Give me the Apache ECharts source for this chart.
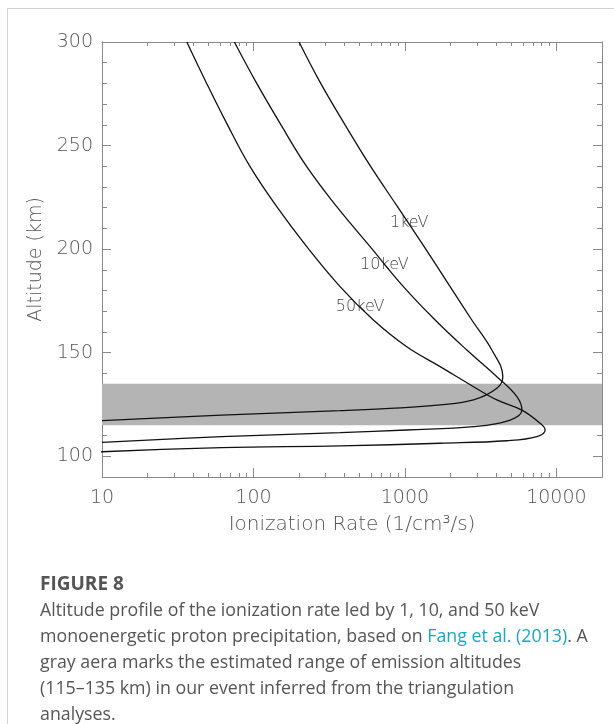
<!DOCTYPE html>
<html>
<head>
<meta charset="utf-8">
<script src="https://cdn.jsdelivr.net/npm/echarts@6/dist/echarts.min.js"></script>
<style>
body { margin: 0; background: #fff; }
#frame { position: absolute; left: 7px; top: 8px; width: 607px; height: 716px;
         border-top: 1px solid #d4d4d4; border-left: 1px solid #d4d4d4; }
#container1 { position: absolute; left: 0; top: 0; width: 614px; height: 724px; }
#caption { position: absolute; left: 40px; top: 570px; width: 570px;
           font-family: "Open Sans", Lato, sans-serif; color: #555; font-size: 17.8px; line-height: 26px; }
#caption .fig { font-weight: bold; font-size: 19px; }
#caption .link { color: #1aa6c6; }
</style>
</head>
<body>
<div id="frame"></div>
<div id="container1"></div>
<div id="caption">
<div class="fig">FIGURE 8</div>
Altitude profile of the ionization rate led by 1, 10, and 50 keV<br>
monoenergetic proton precipitation, based on <span class="link">Fang et al. (2013)</span>. A<br>
gray aera marks the estimated range of emission altitudes<br>
(115–135 km) in our event inferred from the triangulation<br>
analyses.
</div>
<script>
// 1 keV
var rate1 = [200, 278, 397, 595, 893, 1339, 1988, 2764, 3748, 4430, 4045, 2836, 1708, 798, 373, 61.7, 10];
var alt1  = [300, 280.0, 260.7, 239.8, 220.5, 201.2, 181.9, 165.8, 151.3, 138.4, 132.8, 127.2, 124.8, 123.1, 122.0, 119.9, 117.2];
// 10 keV
var rate10 = [74.8, 105.1, 149.9, 224.8, 354.8, 589, 977, 1583, 2563, 4045, 5484, 5916, 4955, 2836, 1028, 373, 61.7, 10];
var alt10  = [300, 280.0, 260.7, 239.8, 220.5, 201.2, 181.9, 165.8, 151.3, 138.4, 128.8, 122.3, 117.5, 114.3, 112.7, 111.4, 109.5, 106.7];
// 50 keV
var rate50 = [36.3, 49.1, 66.6, 95.0, 142.5, 224.8, 373, 619, 1028, 1708, 2836, 4045, 5916, 7816, 8430, 7430, 4710, 1708, 373, 61.7, 10, 8];
var alt50  = [300, 280.0, 260.7, 239.8, 220.5, 201.2, 181.9, 165.8, 152.9, 143.3, 133.6, 127.2, 122.3, 115.9, 112.8, 109.5, 107.5, 106.3, 105.0, 104.2, 102.2, 101.3];

// 灰色带 (km)
var bandLow  = 115;
var bandHigh = 135;

var curveNames = ['1keV', '10keV', '50keV'];
var labelRate  = [1067, 732, 506];
var labelAlt   = [212.6, 192.3, 172.2];

var xMajorTicks = [10, 100, 1000, 10000];
var xMinorTicks = [20, 30, 40, 50, 60, 70, 80, 90, 200, 300, 400, 500, 600, 700, 800, 900,
                   2000, 3000, 4000, 5000, 6000, 7000, 8000, 9000];
var yMajorTicks = [100, 150, 200, 250, 300];

function pairs(xs, ys) {
    var out = [];
    for (var i = 0; i < xs.length; i++) out.push([xs[i], ys[i]]);
    return out;
}
function logs(arr) {
    return arr.map(function (v) { return Math.log10(v); });
}

var dom    = document.getElementById("container1");
var chart1 = echarts.init(dom);

var axisColor = '#8a8a8a';
var font = {fontFamily: 'DejaVu Sans', fontWeight: 200, color: '#555', fontSize: 19};
var lmin = 1, lmax = Math.log10(20000);

function tickAxis(pos, values, len) {
    return {
        type: 'value', position: pos, min: lmin, max: lmax, offset: 0,
        axisLine: {show: false},
        axisTick: {show: true, inside: true, length: len, customValues: values,
                   lineStyle: {color: axisColor}},
        axisLabel: {show: false},
        splitLine: {show: false}
    };
}
function yTickAxis(pos, showLabel, major, len) {
    var a = {
        type: 'value', position: pos, min: 90, max: 300, interval: 10, offset: 0,
        axisLine: {show: true, onZero: false, lineStyle: {color: axisColor}},
        axisTick: {show: true, inside: true, length: len, lineStyle: {color: axisColor}},
        axisLabel: {show: false},
        splitLine: {show: false}
    };
    if (major) {
        a.axisTick.customValues = yMajorTicks;
    }
    if (showLabel) {
        a.axisLabel = Object.assign({show: true, margin: 9, customValues: yMajorTicks}, font);
        a.name = 'Altitude (km)';
        a.nameLocation = 'middle';
        a.nameGap = 52;
        a.nameTextStyle = Object.assign({}, font, {fontSize: 19});
    }
    return a;
}

var lineSeries = [[rate1, alt1], [rate10, alt10], [rate50, alt50]].map(function (d, i) {
    return {
        name: curveNames[i],
        type: 'line',
        xAxisIndex: 0, yAxisIndex: 0,
        data: pairs(d[0], d[1]),
        smooth: 0.4,
        symbol: 'none',
        clip: true,
        z: 5,
        lineStyle: {color: '#111', width: 1.3},
        markPoint: {
            symbol: 'circle', symbolSize: 0, silent: true,
            label: Object.assign({show: true, position: 'inside', formatter: curveNames[i]},
                                 font, {fontSize: 16, color: '#444'}),
            data: [{coord: [labelRate[i], labelAlt[i]]}]
        }
    };
});

option = {
    animation: false,
    grid: {left: 102, right: 12, top: 42, bottom: 247, containLabel: false},
    xAxis: [
        {
            type: 'log', logBase: 10, min: 10, max: 20000, position: 'bottom',
            axisLine: {show: true, onZero: false, lineStyle: {color: axisColor}},
            axisTick: {show: true, inside: true, length: 9, lineStyle: {color: axisColor}},
            axisLabel: Object.assign({
                margin: 12, showMaxLabel: false,
                formatter: function (v) { return String(Math.round(v)); }
            }, font),
            splitLine: {show: false},
            minorTick: {show: false},
            name: 'Ionization Rate (1/cm³/s)',
            nameLocation: 'middle',
            nameGap: 38,
            nameTextStyle: Object.assign({}, font, {fontSize: 20})
        },
        tickAxis('bottom', logs(xMinorTicks), 4),
        Object.assign(tickAxis('top', logs(xMajorTicks), 9),
                      {axisLine: {show: true, onZero: false, lineStyle: {color: axisColor}}}),
        tickAxis('top', logs(xMinorTicks), 4)
    ],
    yAxis: [
        yTickAxis('left', true, true, 9),
        yTickAxis('left', false, false, 5),
        yTickAxis('right', false, true, 9),
        yTickAxis('right', false, false, 5)
    ],
    series: [
        {
            type: 'line', xAxisIndex: 0, yAxisIndex: 0, data: [], z: 1,
            markArea: {
                silent: true,
                itemStyle: {color: '#b4b4b4'},
                data: [[{yAxis: bandLow}, {yAxis: bandHigh}]]
            }
        }
    ].concat(lineSeries)
};

chart1.setOption(option, true);
</script>
</body>
</html>
